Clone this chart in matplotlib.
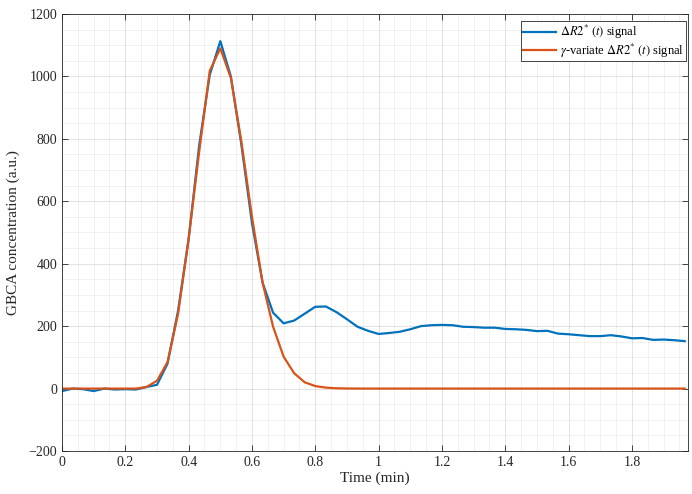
import numpy as np
import matplotlib
matplotlib.use("Agg")
import matplotlib.pyplot as plt
from matplotlib.ticker import MultipleLocator

plt.rcParams['font.family'] = ['Liberation Serif', 'DejaVu Serif']
plt.rcParams['mathtext.fontset'] = 'stix'

time_min = np.arange(60) / 30.0

signal = [-8, 0, -2, -8, 0, -3, -2, -3, 5, 12,
          80, 250, 480, 780, 1005, 1113, 1000, 780, 530, 340,
          243, 209, 218, 240, 262, 263, 245, 222, 198, 185,
          175, 178, 182, 190, 200, 203, 204, 203, 198, 197,
          195, 195, 191, 190, 188, 184, 185, 176, 174, 171,
          168, 168, 171, 167, 161, 162, 156, 157, 155, 152]

gamma_fit = [0, 0, 0, 0, 0, 0, 0, 0, 5, 25,
             85, 240, 480, 760, 1018, 1090, 995, 790, 550, 340,
             198, 102, 49, 20, 8, 3, 1, 0.3, 0, 0,
             0, 0, 0, 0, 0, 0, 0, 0, 0, 0,
             0, 0, 0, 0, 0, 0, 0, 0, 0, 0,
             0, 0, 0, 0, 0, 0, 0, 0, 0, 0]

labels = [r'$\Delta R2^{*}\ (t)$ signal', r'$\gamma$-variate $\Delta R2^{*}\ (t)$ signal']

fig = plt.figure(figsize=(6.92, 4.94), dpi=100)
ax = fig.add_axes([62/692, 43/494, 626/692, 437/494])

ax.plot(time_min, signal, color='#0072BD', lw=1.6, label=labels[0])
ax.plot(time_min, gamma_fit, color='#D95319', lw=1.6, label=labels[1])

ax.set_xlim(0, 1.977)
ax.set_ylim(-200, 1200)
ax.xaxis.set_major_locator(MultipleLocator(0.2))
ax.xaxis.set_minor_locator(MultipleLocator(0.05))
ax.yaxis.set_major_locator(MultipleLocator(200))
ax.yaxis.set_minor_locator(MultipleLocator(50))
ax.set_xticks(np.arange(0, 1.81, 0.2))
ax.set_xticklabels(['0', '0.2', '0.4', '0.6', '0.8', '1', '1.2', '1.4', '1.6', '1.8'])

ax.grid(which='major', color='#262626', alpha=0.15, lw=0.6)
ax.grid(which='minor', color='#262626', alpha=0.07, lw=0.6)
ax.set_axisbelow(True)
ax.tick_params(which='major', direction='in', length=4, top=True, right=True,
               labelsize=10, color='#262626', labelcolor='#262626', width=0.6)
ax.tick_params(which='minor', direction='in', length=0, top=True, right=True)
for s in ax.spines.values():
    s.set_color('#262626')
    s.set_linewidth(0.6)

ax.set_xlabel('Time (min)', fontsize=11, color='#262626', labelpad=2)
ax.set_ylabel('GBCA concentration (a.u.)', fontsize=11, color='#262626', labelpad=6)

leg = ax.legend(loc='upper right', bbox_to_anchor=(0.997, 0.983), fontsize=9,
                frameon=True, fancybox=False, edgecolor='#262626', framealpha=1,
                handlelength=2.7, handletextpad=0.3, borderpad=0.15, labelspacing=0.0,
                borderaxespad=0)
leg.get_frame().set_linewidth(0.6)

fig.savefig('out.png', dpi=100)
